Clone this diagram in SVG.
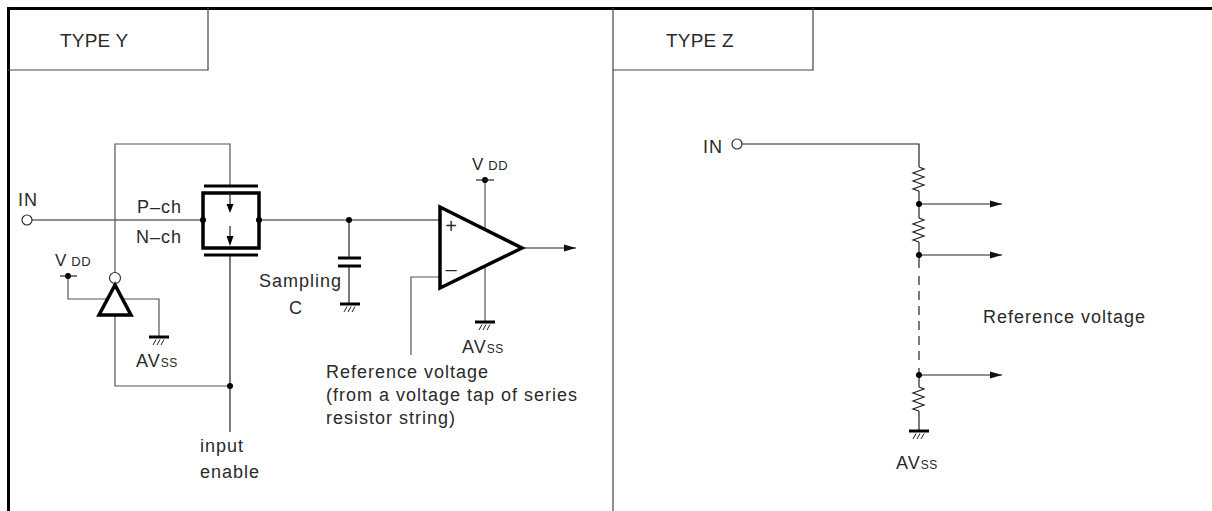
<svg xmlns="http://www.w3.org/2000/svg" width="1212" height="511" viewBox="0 0 1212 511">
<style>
.w{stroke:#222;stroke-width:1.2;fill:none}
.gw{stroke:#555;stroke-width:1.2;fill:none}
.thick{stroke:#000;stroke-width:3.5;fill:none}
.bar{stroke:#000;stroke-width:3;fill:none}
.dot{fill:#000}
.frame{stroke:#000;stroke-width:3;fill:none}
.box{stroke:#444;stroke-width:1.2;fill:none}
text{font-family:"Liberation Sans",Arial,sans-serif;font-size:18px;letter-spacing:1px;fill:#2a2a2a}
.title{font-size:19px;letter-spacing:0.2px}
.sub{font-size:12px;letter-spacing:0.5px}
</style>
<defs>
<marker id="arr" markerWidth="12" markerHeight="8" refX="12" refY="4" orient="auto" markerUnits="userSpaceOnUse">
<path d="M0,0.5 L12,4 L0,7.5 z" fill="#111"/>
</marker>
<g id="gnd">
<line x1="-10" y1="0" x2="10" y2="0" stroke="#000" stroke-width="3"/>
<path d="M-3,2.5 L-6,8 M1,2.5 L-2,8 M5,2.5 L2,8" stroke="#222" stroke-width="1"/>
</g>
</defs>
<rect width="1212" height="511" fill="#fff"/>

<g id="frame">
<line class="frame" x1="7" y1="8.5" x2="1212" y2="8.5"/>
<line class="frame" x1="8.5" y1="7" x2="8.5" y2="511"/>
<line class="box" x1="613" y1="8" x2="613" y2="511"/>
</g>

<g id="title-y">
<path class="box" d="M8,70 H208 V8"/>
<text class="title" x="60" y="47">TYPE Y</text>
</g>
<g id="title-z">
<path class="box" d="M613,70 H813 V8"/>
<text class="title" x="666" y="47">TYPE Z</text>
</g>

<g id="connectors">
<!-- Type Y -->
<line class="w" x1="32" y1="220" x2="203" y2="220"/>
<path class="gw" d="M115,272 V144 H230 V185"/>
<path class="gw" d="M115,315 V386 H230"/>
<line class="w" x1="230" y1="256" x2="230" y2="432"/>
<path class="gw" d="M68,276 V299 H107.5"/>
<path class="gw" d="M122.5,299 H159 V337"/>
<line class="w" x1="259" y1="220" x2="440" y2="220"/>
<line class="w" x1="349" y1="220" x2="349" y2="258"/>
<line class="w" x1="349" y1="266" x2="349" y2="304"/>
<line class="gw" x1="485" y1="180" x2="485" y2="229"/>
<line class="gw" x1="485" y1="266" x2="485" y2="322"/>
<path class="gw" d="M440,277 H411 V355"/>
<line class="w" x1="522" y1="248" x2="576" y2="248" marker-end="url(#arr)"/>
<!-- Type Z -->
<path class="w" d="M742,144 H919 V167"/>
<line class="w" x1="919" y1="191" x2="919" y2="218"/>
<line class="w" x1="919" y1="242" x2="919" y2="268"/>
<line class="w" x1="919" y1="276" x2="919" y2="366" stroke-dasharray="9 6"/>
<line class="w" x1="919" y1="368" x2="919" y2="387"/>
<line class="w" x1="919" y1="411" x2="919" y2="431"/>
<line class="w" x1="919" y1="204" x2="1002" y2="204" marker-end="url(#arr)"/>
<line class="w" x1="919" y1="255" x2="1002" y2="255" marker-end="url(#arr)"/>
<line class="w" x1="919" y1="375" x2="1002" y2="375" marker-end="url(#arr)"/>
</g>

<g id="in-y">
<circle cx="27" cy="220" r="5" fill="#fff" stroke="#333" stroke-width="1.2"/>
<text x="18" y="206">IN</text>
</g>

<g id="transmission-gate">
<rect class="thick" x="203" y="193" width="56" height="55"/>
<line class="bar" x1="204" y1="186" x2="258" y2="186"/>
<line class="bar" x1="204" y1="255" x2="258" y2="255"/>
<line class="w" x1="230" y1="193" x2="230" y2="205"/>
<polygon points="226.5,204 233.5,204 230,213" fill="#000"/>
<line class="w" x1="230" y1="226" x2="230" y2="237"/>
<polygon points="226.5,236 233.5,236 230,246" fill="#000"/>
<circle class="dot" cx="203" cy="220" r="3"/>
<circle class="dot" cx="259" cy="220" r="3"/>
<text x="137" y="213">P–ch</text>
<text x="136" y="243">N–ch</text>
</g>

<g id="inverter">
<circle cx="115" cy="278" r="5.5" fill="#fff" stroke="#333" stroke-width="1.2"/>
<polygon class="thick" points="115,285 99,315 131,315" fill="#fff"/>
<circle class="dot" cx="68" cy="276" r="3"/>
<line class="w" x1="60" y1="276" x2="77" y2="276"/>
<text x="55" y="266"><tspan style="font-size:17px">V</tspan><tspan class="sub" dx="4" style="font-size:13px">DD</tspan></text>
<use href="#gnd" x="159" y="337"/>
<text x="136" y="367">AV<tspan class="sub">SS</tspan></text>
</g>

<g id="enable">
<circle class="dot" cx="230" cy="386" r="3"/>
<text x="200" y="452">input</text>
<text x="200" y="478">enable</text>
</g>

<g id="capacitor">
<circle class="dot" cx="349" cy="220" r="3"/>
<line class="bar" x1="338" y1="258" x2="361" y2="258"/>
<line class="bar" x1="338" y1="266" x2="361" y2="266"/>
<use href="#gnd" x="350" y="304"/>
<text x="259" y="287">Sampling</text>
<text x="289" y="314">C</text>
</g>

<g id="comparator">
<polygon class="thick" points="440,207 440,288 522,248"/>
<text x="451" y="233" style="text-anchor:middle;letter-spacing:0;font-size:20px">+</text>
<text x="451" y="276" style="text-anchor:middle;letter-spacing:0;font-size:20px">–</text>
<circle class="dot" cx="485" cy="180" r="3"/>
<line class="w" x1="476" y1="180" x2="494" y2="180"/>
<text x="472" y="170"><tspan style="font-size:17px">V</tspan><tspan class="sub" dx="4" style="font-size:13px">DD</tspan></text>
<use href="#gnd" x="485" y="322"/>
<text x="462" y="353">AV<tspan class="sub">SS</tspan></text>
</g>

<g id="ref-label-y">
<text x="326" y="378">Reference voltage</text>
<text x="326" y="401">(from a voltage tap of series</text>
<text x="326" y="424">resistor string)</text>
</g>

<g id="in-z">
<circle cx="737" cy="144" r="5" fill="#fff" stroke="#333" stroke-width="1.2"/>
<text x="703" y="153">IN</text>
</g>

<g id="resistor-string">
<path class="w" d="M919,167 L924,169 L913,173 L924,177 L913,181 L924,185 L913,189 L919,191"/>
<path class="w" d="M919,218 L924,220 L913,224 L924,228 L913,232 L924,236 L913,240 L919,242"/>
<path class="w" d="M919,387 L924,389 L913,393 L924,397 L913,401 L924,405 L913,409 L919,411"/>
<circle class="dot" cx="919" cy="204" r="3"/>
<circle class="dot" cx="919" cy="255" r="3"/>
<circle class="dot" cx="919" cy="375" r="3"/>
<use href="#gnd" x="919" y="431"/>
<text x="896" y="469">AV<tspan class="sub">SS</tspan></text>
<text x="983" y="323">Reference voltage</text>
</g>
</svg>
